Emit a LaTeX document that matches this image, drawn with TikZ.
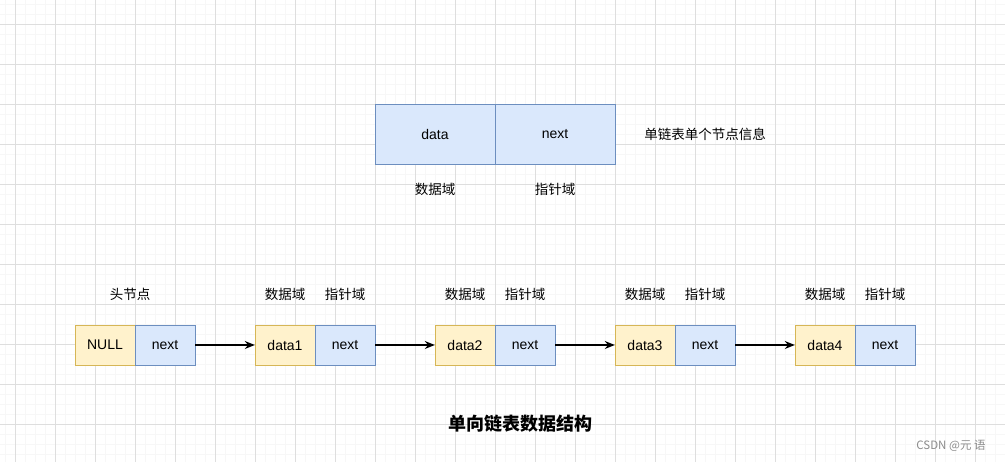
\documentclass[tikz,border=0pt]{standalone}
\usepackage{fontspec}
\setmainfont{Liberation Sans}
\newfontfamily\cjk{Noto Sans CJK SC}
\usepackage{tikz}
\usetikzlibrary{positioning,arrows.meta}

\definecolor{datafill}{HTML}{FFF2CC}
\definecolor{datadraw}{HTML}{D6B656}
\definecolor{ptrfill}{HTML}{DAE8FC}
\definecolor{ptrdraw}{HTML}{6C8EBF}
\definecolor{gridminor}{HTML}{F7F7F7}
\definecolor{gridmajor}{HTML}{DEDEDE}

\tikzset{
    datacell/.style={draw=datadraw, fill=datafill, minimum width=60pt, minimum height=40pt,
        inner sep=0pt, font=\fontsize{14}{16}\selectfont},
    ptrcell/.style={draw=ptrdraw, fill=ptrfill, minimum width=60pt, minimum height=40pt,
        inner sep=0pt, font=\fontsize{14}{16}\selectfont},
    bigcell/.style={draw=ptrdraw, fill=ptrfill, minimum width=120pt, minimum height=60pt,
        inner sep=0pt, font=\fontsize{14}{16}\selectfont},
    fieldlabel/.style={inner sep=0pt, font=\cjk\fontsize{13.5}{16}\selectfont},
    link/.style={-{Stealth[length=10pt,width=8pt]}, line width=1.3pt}
}

\begin{document}
\begin{tikzpicture}[x=1pt, y=-1pt]
    \useasboundingbox (0,0) rectangle (1005,462);
    \fill[white] (0,0) rectangle (1005,462);

    % background grid
    \foreach \x in {5,15,...,1005}
        \draw[gridminor, line width=0.6pt] (\x,0) -- (\x,462);
    \foreach \y in {4,14,...,462}
        \draw[gridminor, line width=0.6pt] (0,\y) -- (1005,\y);
    \foreach \x in {15,55,...,1005}
        \draw[gridmajor, line width=0.7pt] (\x,0) -- (\x,462);
    \foreach \y in {24,64,...,462}
        \draw[gridmajor, line width=0.7pt] (0,\y) -- (1005,\y);

    % single node
    \node[bigcell] (topdata) at (435,134) {data};
    \node[bigcell] (topnext) at (555,134) {next};
    \node[fieldlabel] (topinfo) at (705,134) {单链表单个节点信息};
    \node[fieldlabel] (topdatalbl) at (435,189) {数据域};
    \node[fieldlabel] (topnextlbl) at (555,189) {指针域};

    % head node
    \node[datacell] (null) at (105,345) {NULL};
    \node[ptrcell] (n0) at (165,345) {next};
    \node[fieldlabel] (headlbl) at (130,294) {头节点};

    % data nodes
    \foreach \i/\x in {1/285,2/465,3/645,4/825} {
        \node[datacell] (d\i) at (\x,345) {data\i};
        \node[ptrcell] (n\i) at (\x+60,345) {next};
        \node[fieldlabel] (dl\i) at (\x,294) {数据域};
        \node[fieldlabel] (nl\i) at (\x+60,294) {指针域};
    }

    % links
    \foreach \i [count=\j from 1] in {0,1,2,3}
        \draw[link] (n\i.east) -- (d\j.west);

    \node[inner sep=0pt, font=\cjk\bfseries\fontsize{18}{20}\selectfont] (title) at (520,424) {单向链表数据结构};
    \node[inner sep=0pt, text=black!45, font=\cjk\fontsize{11.5}{13}\selectfont] (mark) at (951,446) {CSDN @元 语};
\end{tikzpicture}
\end{document}
